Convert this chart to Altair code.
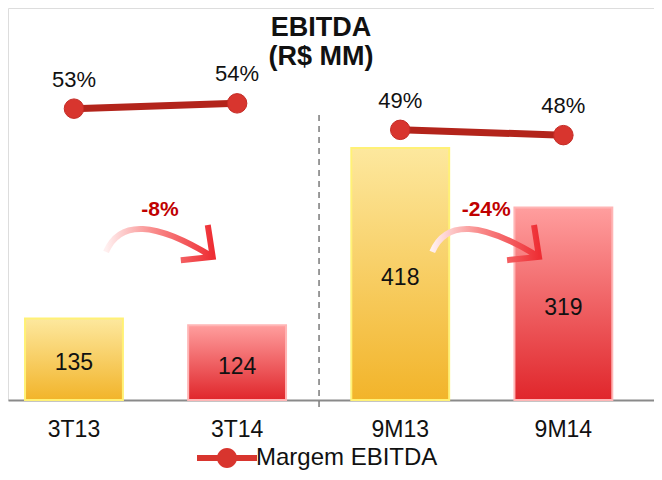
import altair as alt
import pandas as pd

# ---- data ----
categorias = ["3T13", "3T14", "9M13", "9M14"]
ebitda = [135, 124, 418, 319]
margem = [53, 54, 49, 48]
margem_rotulos = ["53%", "54%", "49%", "48%"]
periodo = ["3T", "3T", "9M", "9M"]
ano = ["2013", "2014", "2013", "2014"]
variacao_base = ["3T13", "9M13"]
variacao_rotulos = ["-8%", "-24%"]
separador_cat = ["3T14"]
serie = "Margem EBITDA"

df = pd.DataFrame({
    "cat": categorias,
    "ebitda": ebitda,
    "margem": margem,
    "margem_txt": margem_rotulos,
    "periodo": periodo,
    "ano": ano,
    "serie": [serie] * len(categorias),
})
df_var = pd.DataFrame({"cat": variacao_base, "rotulo": variacao_rotulos})
df_sep = pd.DataFrame({"cat": separador_cat})

FONT = "Liberation Sans"

x_scale = alt.Scale(domain=categorias, paddingInner=0.4, paddingOuter=0.18, align=0.29)
x_axis = alt.Axis(title=None, ticks=False, grid=False, labelAngle=0,
                  labelFont=FONT, labelFontSize=23, labelColor="#111",
                  labelPadding=18, domainColor="#8a8a8a", domainWidth=2)

def xenc(band=None):
    if band is None:
        return alt.X("cat:N", scale=x_scale, sort=categorias, axis=x_axis)
    return alt.X("cat:N", scale=x_scale, sort=categorias, axis=x_axis, bandPosition=band)

ybar = alt.Scale(domain=[0, 650])
yline = alt.Scale(domain=[-2, 72])

grad_y = alt.Gradient(gradient="linear", x1=0, x2=0, y1=0, y2=1,
                      stops=[alt.GradientStop(offset=0, color="#FDE89E"),
                             alt.GradientStop(offset=1, color="#F2B42A")])
grad_r = alt.Gradient(gradient="linear", x1=0, x2=0, y1=0, y2=1,
                      stops=[alt.GradientStop(offset=0, color="#FF9E9E"),
                             alt.GradientStop(offset=1, color="#E0262B")])
grad_arrow = alt.Gradient(gradient="linear", x1=0, x2=1, y1=0, y2=0,
                          stops=[alt.GradientStop(offset=0, color="#FFF0F0"),
                                 alt.GradientStop(offset=0.45, color="#F98A8A"),
                                 alt.GradientStop(offset=1, color="#EE2E34")])

base = alt.Chart(df)

bars_y = base.transform_filter(alt.datum.ano == "2013").mark_bar(
    fill=grad_y, stroke="#FFF176", strokeWidth=2
).encode(x=xenc(), y=alt.Y("ebitda:Q", scale=ybar, axis=None))

bars_r = base.transform_filter(alt.datum.ano == "2014").mark_bar(
    fill=grad_r, stroke="#FFB5B5", strokeWidth=2
).encode(x=xenc(), y=alt.Y("ebitda:Q", scale=ybar, axis=None))

bar_txt = base.transform_calculate(meio="datum.ebitda / 2").mark_text(
    font=FONT, fontSize=23, color="#111", baseline="middle", dy=4
).encode(x=xenc(), y=alt.Y("meio:Q", scale=ybar, axis=None), text="ebitda:Q")

sep = alt.Chart(df_sep).mark_rule(
    color="#7a7a7a", strokeDash=[6, 5], strokeWidth=1.5, xOffset=33
).encode(x=xenc(1), y=alt.value(107), y2=alt.value(402))

arrow_path = "M-0.98,0.18 Q-0.61,-0.70 0.96,0.27 M0.87,-0.31 L0.96,0.27 L0.38,0.33"
arrows = alt.Chart(df_var).mark_point(
    shape=arrow_path, size=12100, filled=False, stroke=grad_arrow,
    strokeWidth=6, opacity=1, xOffset=37
).encode(x=xenc(1), y=alt.value(234))

arrow_txt = alt.Chart(df_var).mark_text(
    font=FONT, fontSize=21, fontWeight="bold", color="#C00000", xOffset=37
).encode(x=xenc(1), y=alt.value(202), text="rotulo:N")

line = base.mark_line(color="#B3241B", strokeWidth=7).encode(
    x=xenc(), y=alt.Y("margem:Q", scale=yline, axis=None), detail="periodo:N"
)

legend_symbol = ("M-3,-0.3 L3,-0.3 L3,0.3 L-3,0.3 Z "
                 "M-1,0 A1,1 0 1,1 1,0 A1,1 0 1,1 -1,0 Z")
points = base.mark_circle(size=380, opacity=1, stroke="#C42B25", strokeWidth=1).encode(
    x=xenc(), y=alt.Y("margem:Q", scale=yline, axis=None),
    color=alt.Color("serie:N", scale=alt.Scale(range=["#D8352E"]),
                    legend=alt.Legend(title=None, orient="none", legendX=207, legendY=438,
                                      symbolType=legend_symbol,
                                      symbolSize=400, labelFont=FONT, labelFontSize=24,
                                      labelColor="#111", labelOffset=17, labelLimit=400,
                                      padding=0, symbolStrokeWidth=0, symbolOpacity=1))
)

pct_txt = base.mark_text(font=FONT, fontSize=22, color="#111", dy=-29).encode(
    x=xenc(), y=alt.Y("margem:Q", scale=yline, axis=None), text="margem_txt:N"
)

chart = alt.layer(
    bars_y, bars_r, bar_txt, sep, arrows, arrow_txt, line, points, pct_txt
).resolve_scale(y="independent").properties(
    width=646, height=392,
    autosize=alt.AutoSizeParams(type="none"),
    padding={"left": 0, "top": 0, "right": 0, "bottom": 72},
    title=alt.TitleParams(text=["EBITDA", "(R$ MM)"], font=FONT, fontSize=27,
                          fontWeight="bold", color="#111", anchor="middle",
                          offset=-63, dx=-10, lineHeight=29),
).configure_view(stroke=None).configure(background="white")

chart.save("out.html", embed_options={"renderer": "svg", "actions": False})
